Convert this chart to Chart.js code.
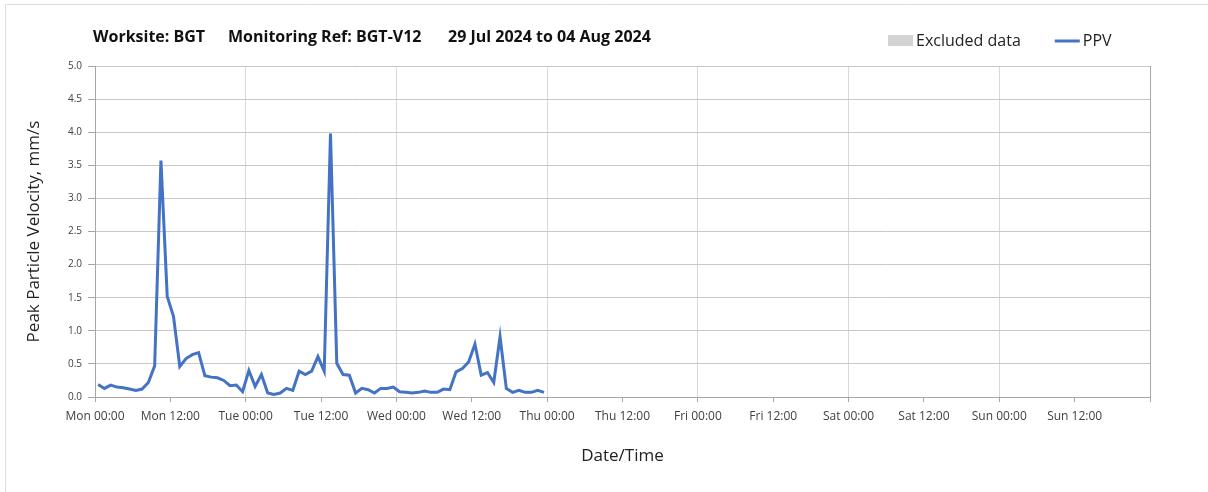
<!DOCTYPE html>
<html>
<head>
<meta charset="utf-8">
<title>PPV BGT-V12</title>
<script src="https://cdn.jsdelivr.net/npm/chart.js@4/dist/chart.umd.min.js"></script>
<style>
  html, body { margin: 0; padding: 0; background: #fff; }
  #wrap { width: 1208px; height: 492px; position: relative; }
</style>
</head>
<body>
<div id="wrap"><canvas id="ppvChart"></canvas></div>
<script>
const worksite = 'BGT';
const monitoringRef = 'BGT-V12';
const periodText = '29 Jul 2024 to 04 Aug 2024';
const dayNames = ['Mon', 'Tue', 'Wed', 'Thu', 'Fri', 'Sat', 'Sun'];
const weekHours = 168;

// hourly peak particle velocity from Mon 00:00, mm/s
const ppv = [
    0.19, 0.13, 0.18, 0.15, 0.14, 0.12, 0.10, 0.12, 0.22, 0.47,
    3.57, 1.52, 1.22, 0.46, 0.58, 0.64, 0.67, 0.32, 0.30, 0.29,
    0.25, 0.17, 0.18, 0.08, 0.40, 0.16, 0.34, 0.06, 0.04, 0.06,
    0.13, 0.10, 0.39, 0.34, 0.39, 0.61, 0.39, 3.98, 0.51, 0.34,
    0.33, 0.06, 0.13, 0.11, 0.06, 0.13, 0.13, 0.15, 0.08, 0.07,
    0.06, 0.07, 0.09, 0.07, 0.07, 0.12, 0.11, 0.38, 0.43, 0.53,
    0.80, 0.33, 0.37, 0.22, 0.91, 0.13, 0.07, 0.10, 0.07, 0.07,
    0.10, 0.07
];
// no excluded periods this week
const excluded = [];

const FONT = '"Open Sans", Lato, sans-serif';
const axisGrey = '#a6a6a6';

// title line, legend and outer frame are painted straight onto the canvas
const headerPlugin = {
    id: 'header',
    afterDraw(chart) {
        const ctx = chart.ctx;
        const left = chart.chartArea.left;
        ctx.save();

        ctx.strokeStyle = '#dcdcdc';
        ctx.lineWidth = 1;
        ctx.beginPath();
        ctx.moveTo(5.5, chart.height);
        ctx.lineTo(5.5, 4.5);
        ctx.lineTo(chart.width, 4.5);
        ctx.stroke();

        ctx.fillStyle = '#111';
        ctx.font = 'bold 16px ' + FONT;
        ctx.textBaseline = 'middle';
        ctx.fillText('Worksite: ' + worksite, left - 2, 37);
        ctx.fillText('Monitoring Ref: ' + monitoringRef, left + 133, 37);
        ctx.fillText(periodText, left + 353, 37);

        ctx.font = '16px ' + FONT;
        let x = 888;
        chart.data.datasets.forEach(ds => {
            if (ds.type === 'bar') {
                ctx.fillStyle = ds.backgroundColor;
                ctx.fillRect(x, 35, 25, 11);
            } else {
                ctx.strokeStyle = ds.borderColor;
                ctx.lineWidth = 3;
                ctx.beginPath();
                ctx.moveTo(x, 41);
                ctx.lineTo(x + 25, 41);
                ctx.stroke();
            }
            ctx.fillStyle = '#222';
            ctx.fillText(ds.label, x + 28, 41);
            x += 28 + ctx.measureText(ds.label).width + 34;
        });
        ctx.restore();
    }
};

function hourLabel(value) {
    if (value >= weekHours) return '';
    const day = dayNames[Math.floor(value / 24)];
    return day + ' ' + (value % 24 === 0 ? '00:00' : '12:00');
}

const chart = new Chart(document.getElementById('ppvChart'), {
    type: 'line',
    data: {
        datasets: [{
            type: 'bar',
            label: 'Excluded data',
            data: excluded,
            backgroundColor: '#d3d3d3'
        }, {
            type: 'line',
            label: 'PPV',
            data: ppv.map((v, i) => ({ x: i + 0.5, y: v })),
            borderColor: '#4472c4',
            borderWidth: 3,
            pointRadius: 0,
            tension: 0
        }]
    },
    options: {
        responsive: true,
        maintainAspectRatio: false,
        animation: false,
        layout: { padding: { left: 0, top: 66, right: 58, bottom: 0 } },
        plugins: {
            legend: { display: false },
            tooltip: { enabled: false }
        },
        scales: {
            x: {
                type: 'linear',
                min: 0,
                max: weekHours,
                offset: false,
                afterFit: scale => { scale.height = 95; },
                grid: {
                    offset: false,
                    color: c => c.tick && c.tick.value === weekHours ? axisGrey
                        : (c.tick && c.tick.value % 24 === 0 ? '#d9d9d9' : 'rgba(0,0,0,0)'),
                    tickColor: axisGrey,
                    tickLength: 5
                },
                border: { color: axisGrey },
                ticks: {
                    stepSize: 12,
                    autoSkip: false,
                    maxRotation: 0,
                    padding: 7,
                    color: '#404040',
                    font: { family: FONT, size: 12 },
                    callback: hourLabel
                },
                title: {
                    display: true,
                    text: 'Date/Time',
                    color: '#222',
                    font: { family: FONT, size: 17 },
                    padding: { top: 0, bottom: 26 }
                }
            },
            y: {
                min: 0,
                max: 5,
                afterFit: scale => { scale.width = 95; },
                grid: {
                    color: '#c8c8c8',
                    tickColor: axisGrey,
                    tickLength: 7
                },
                border: { color: axisGrey },
                ticks: {
                    stepSize: 0.5,
                    padding: 6,
                    color: '#404040',
                    font: { family: FONT, size: 10 },
                    callback: v => v.toFixed(1)
                },
                title: {
                    display: true,
                    text: 'Peak Particle Velocity, mm/s',
                    color: '#222',
                    font: { family: FONT, size: 17 },
                    padding: { top: 24, bottom: 0 }
                }
            }
        }
    },
    plugins: [headerPlugin]
});
</script>
</body>
</html>
